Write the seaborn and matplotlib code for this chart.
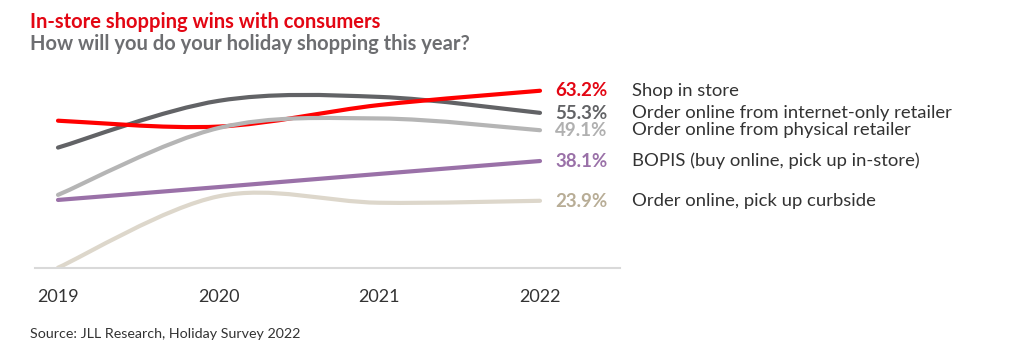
import numpy as np
import pandas as pd
import matplotlib
matplotlib.use("Agg")
import matplotlib.pyplot as plt
from matplotlib.path import Path
from matplotlib.patches import PathPatch
import seaborn as sns

years = ["2019", "2020", "2021", "2022"]
series_names = ["Shop in store",
                "Order online from internet-only retailer",
                "Order online from physical retailer",
                "BOPIS (buy online, pick up in-store)",
                "Order online, pick up curbside"]
shop_in_store = [52.5, 50.4, 58.1, 63.2]
internet_only = [42.9, 59.6, 61.0, 55.3]
physical_retailer = [26.0, 49.9, 53.3, 49.1]
bopis = [24.2, 28.8, 33.5, 38.1]
curbside = [0.0, 25.5, 23.2, 23.9]
values = [shop_in_store, internet_only, physical_retailer, bopis, curbside]

line_colors = ["#ff0000", "#626366", "#b5b5b5", "#9a71a8", "#ddd7cb"]
pct_colors = ["#e30613", "#626366", "#b0b0b0", "#9a71a8", "#b8ad96"]
zorders = [4, 3, 5, 2, 2]

sns.set_theme(style="white")
plt.rcParams['font.family'] = ['Lato', 'DejaVu Sans']

fig = plt.figure(figsize=(10.24, 3.64), dpi=100)
ax = fig.add_axes([35 / 1024, (364 - 267.7) / 364, (620 - 35) / 1024, (267.7 - 70) / 364])

x = np.arange(len(years))
df = pd.DataFrame({"year": np.tile(x, len(values)),
                   "value": np.concatenate(values),
                   "series": np.repeat(series_names, len(years))})
sns.lineplot(data=df, x="year", y="value", hue="series", ax=ax,
             linewidth=0, legend=False, palette=line_colors)


def smooth_path(xs, ys):
    pts = np.column_stack([xs, ys]).astype(float)
    n = len(pts)
    verts = [pts[0]]
    codes = [Path.MOVETO]
    for i in range(n - 1):
        p0 = pts[i - 1] if i > 0 else pts[i]
        p1 = pts[i]
        p2 = pts[i + 1]
        p3 = pts[i + 2] if i + 2 < n else pts[i + 1]
        c1 = p1 + (p2 - p0) / 6.0
        c2 = p2 - (p3 - p1) / 6.0
        verts += [c1, c2, p2]
        codes += [Path.CURVE4] * 3
    return Path(verts, codes)


for vals, col, z in zip(values, line_colors, zorders):
    patch = PathPatch(smooth_path(x, vals), facecolor="none", edgecolor=col,
                      linewidth=3.0, capstyle="round", zorder=z)
    ax.add_patch(patch)

ppu = (540 - 58) / 3.0
ax.set_xlim(-(58 - 35) / ppu, (620 - 58) / ppu)
ax.set_ylim(0, (267.7 - 70) / 2.8)

for s in ["top", "right", "left"]:
    ax.spines[s].set_visible(False)
ax.spines["bottom"].set_color("#d9d9d9")
ax.spines["bottom"].set_linewidth(1.5)
ax.set_yticks([])
ax.set_xticks(x)
ax.set_xticklabels(years, fontsize=13, color="#333333")
ax.tick_params(axis="x", length=0, pad=15)
ax.set_xlabel("")
ax.set_ylabel("")

label_offsets = [0, 0.3, 0.1, 0, 0.3]
for vals, name, pc, dy in zip(values, series_names, pct_colors, label_offsets):
    ax.annotate(f"{vals[-1]:.1f}%", xy=(x[-1], vals[-1]), xytext=(10.8, -dy),
                textcoords="offset points", ha="left", va="center",
                fontsize=13.5, fontweight="bold", color=pc)
    ax.annotate(name, xy=(x[-1], vals[-1]), xytext=(66, -dy),
                textcoords="offset points", ha="left", va="center",
                fontsize=13.3, color="#333333")

fig.text(30 / 1024, 1 - 22 / 364, "In-store shopping wins with consumers",
         fontsize=14.5, fontweight="bold", color="#e30613", va="center", ha="left")
fig.text(30 / 1024, 1 - 44 / 364, "How will you do your holiday shopping this year?",
         fontsize=14.5, fontweight="bold", color="#6d6e71", va="center", ha="left")
fig.text(30 / 1024, 1 - 334 / 364, "Source: JLL Research, Holiday Survey 2022",
         fontsize=10.3, color="#333333", va="center", ha="left")

fig.savefig("out.png", dpi=100)
